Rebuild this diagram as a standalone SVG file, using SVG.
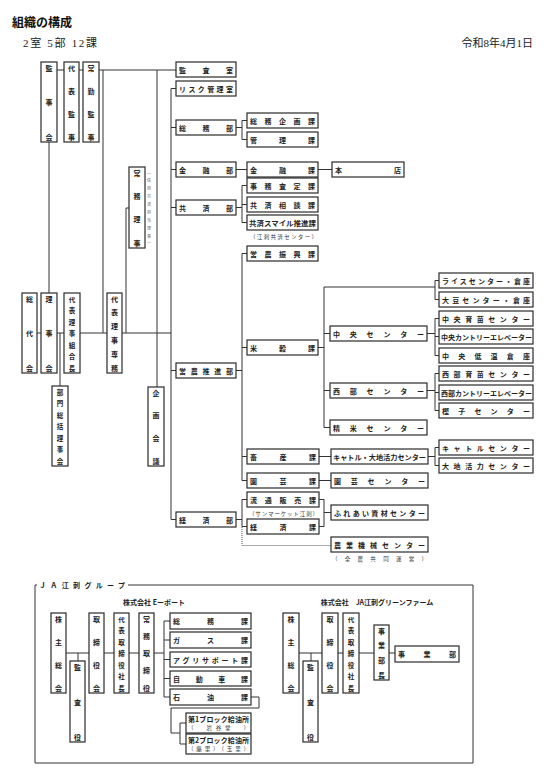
<svg xmlns="http://www.w3.org/2000/svg" width="550" height="783" viewBox="0 0 550 783">
<style>
.bx{fill:#fff;stroke:#2a2a2a;stroke-width:1.2}
.ln{fill:none;stroke:#333;stroke-width:1}
.dt{fill:none;stroke:#555;stroke-width:1;stroke-dasharray:1 1}
.t{font-family:"Noto Sans CJK JP","Noto Sans",sans-serif;font-size:7px;font-weight:bold;fill:#222}
.v{font-family:"Noto Sans CJK JP","Noto Sans",sans-serif;font-size:7px;font-weight:bold;fill:#222;text-anchor:middle}
.n{font-family:"Noto Sans CJK JP","Noto Sans",sans-serif;font-size:5.5px;fill:#333}
.h1{font-family:"Noto Sans CJK JP",sans-serif;font-size:12px;font-weight:bold;fill:#111}
.h2{font-family:"Liberation Serif","Noto Sans CJK JP",serif;font-size:11px;fill:#222}
</style>
<rect width="550" height="783" fill="#fff"/>
<text class="h1" x="12" y="27">組織の構成</text>
<text class="h2" x="23" y="47" textLength="74" lengthAdjust="spacing">2室 5部 12課</text>
<text class="h2" x="533" y="47" text-anchor="end">令和8年4月1日</text>

<g id="connectors">
<path class="ln" d="M57 70H64M79 70H83M99 70H176M103 70V333M157 70V387M49 142V293"/>
<path class="ln" d="M37 333H41M57 333H64M80 333H107M122 333H171M60 333V386M126 333V208H129"/>
<path class="ln" d="M171 88.5V519.5M171 88.5H176M171 127.5H176M171 169.5H176M171 207.5H176M171 370.5H176M171 519.5H176"/>
<path class="ln" d="M236 127.5H242M242 120.5V139.5M242 120.5H247M242 139.5H247"/>
<path class="ln" d="M236 169.5H247M318 169.5H332"/>
<path class="ln" d="M236 207.5H242M242 185.5V222.5M242 185.5H247M242 204.5H247M242 222.5H247"/>
<path class="ln" d="M236 370.5H242M242 253.5V480.5M242 253.5H247M242 347.5H247M242 456.5H247M242 480.5H247"/>
<path class="ln" d="M318 347.5H324M324 287V427.5M324 287H435M435 280.5V299.5M435 280.5H439M435 299.5H439"/>
<path class="ln" d="M324 333.5H330M427 333.5H435M435 318.5V355.5M435 318.5H439M435 336.5H439M435 355.5H439"/>
<path class="ln" d="M324 390.5H330M427 390.5H435M435 373.5V410.5M435 373.5H439M435 392.5H439M435 410.5H439"/>
<path class="ln" d="M324 427.5H330"/>
<path class="ln" d="M319 456.5H331M428 456.5H435M435 447.5V465.5M435 447.5H439M435 465.5H439M319 480.5H331"/>
<path class="ln" d="M236 519.5H242M242 499.5V526.5M242 499.5H247M242 526.5H247M319 499.5H324M319 526.5H324M324 499.5V526.5M324 512.5H331"/>
<path class="dt" d="M242 527V545.5H331"/>
<path class="ln" d="M35 590V763H473V585H128M35 585H37M35 585V590"/>
<path class="ln" d="M66 653H89M104 653H114M129 653H139M154 653H164M78 653V661"/>
<path class="ln" d="M164 621V697M164 621H170M164 640H170M164 659.5H170M164 678.5H170M164 697H170"/>
<path class="ln" d="M251 697H259V708H171V733H180M180 723V744M180 723H186M180 744H186"/>
<path class="ln" d="M299 653H322M338 653H343M359 653H374M389 653H395M311 653V661"/>
</g>

<g id="kansa-jimukai"><rect class="bx" x="41" y="62" width="16" height="80"/><text class="v"><tspan x="49" y="70.5">監</tspan><tspan x="49" y="105">事</tspan><tspan x="49" y="139.5">会</tspan></text></g>
<g id="daihyo-kanji"><rect class="bx" x="64" y="62" width="15" height="80"/><text class="v"><tspan x="71.5" y="70.5">代</tspan><tspan x="71.5" y="93.5">表</tspan><tspan x="71.5" y="116.5">監</tspan><tspan x="71.5" y="139.5">事</tspan></text></g>
<g id="jokin-kanji"><rect class="bx" x="83" y="62" width="16" height="80"/><text class="v"><tspan x="91" y="70.5">常</tspan><tspan x="91" y="93.5">勤</tspan><tspan x="91" y="116.5">監</tspan><tspan x="91" y="139.5">事</tspan></text></g>
<g id="jomu-riji"><rect class="bx" x="129" y="167" width="16" height="81"/><text class="v"><tspan x="137" y="175.5">常</tspan><tspan x="137" y="198.8">務</tspan><tspan x="137" y="222.2">理</tspan><tspan x="137" y="245.5">事</tspan></text>
<text class="n" style="font-size:4px;fill:#666" writing-mode="tb" x="149" y="170" textLength="76" lengthAdjust="spacing">（信用共済担当理事）</text></g>
<g id="sodaikai"><rect class="bx" x="22" y="293" width="15" height="80"/><text class="v"><tspan x="29.5" y="301.5">総</tspan><tspan x="29.5" y="336">代</tspan><tspan x="29.5" y="370.5">会</tspan></text></g>
<g id="rijikai"><rect class="bx" x="41" y="293" width="16" height="80"/><text class="v"><tspan x="49" y="301.5">理</tspan><tspan x="49" y="336">事</tspan><tspan x="49" y="370.5">会</tspan></text></g>
<g id="kumiaicho"><rect class="bx" x="64" y="293" width="16" height="80"/><text class="v" style="font-size:6.5px"><tspan x="72" y="301.5">代</tspan><tspan x="72" y="313">表</tspan><tspan x="72" y="324.5">理</tspan><tspan x="72" y="336">事</tspan><tspan x="72" y="347.5">組</tspan><tspan x="72" y="359">合</tspan><tspan x="72" y="370.5">長</tspan></text></g>
<g id="senmu"><rect class="bx" x="107" y="293" width="15" height="80"/><text class="v"><tspan x="114.5" y="301.5">代</tspan><tspan x="114.5" y="315.3">表</tspan><tspan x="114.5" y="329.1">理</tspan><tspan x="114.5" y="342.9">事</tspan><tspan x="114.5" y="356.7">専</tspan><tspan x="114.5" y="370.5">務</tspan></text></g>
<g id="bumon"><rect class="bx" x="52" y="386" width="16" height="80"/><text class="v" style="font-size:6.5px"><tspan x="60" y="394.5">部</tspan><tspan x="60" y="406">門</tspan><tspan x="60" y="417.5">総</tspan><tspan x="60" y="429">括</tspan><tspan x="60" y="440.5">理</tspan><tspan x="60" y="452">事</tspan><tspan x="60" y="463.5">会</tspan></text></g>
<g id="kikaku"><rect class="bx" x="148" y="387" width="16" height="79"/><text class="v"><tspan x="156" y="395.5">企</tspan><tspan x="156" y="418.2">画</tspan><tspan x="156" y="440.8">会</tspan><tspan x="156" y="463.5">議</tspan></text></g>

<g id="kansashitsu"><rect class="bx" x="176" y="62" width="60" height="15"/><text class="t" x="179" y="72.5" textLength="54" lengthAdjust="spacing">監査室</text></g>
<g id="risk"><rect class="bx" x="176" y="81" width="60" height="15"/><text class="t" x="179" y="91.5" textLength="54" lengthAdjust="spacing">リスク管理室</text></g>
<g id="somubu"><rect class="bx" x="176" y="120" width="60" height="15"/><text class="t" x="179" y="130.5" textLength="54" lengthAdjust="spacing">総務部</text></g>
<g id="somukikaku"><rect class="bx" x="247" y="113" width="71" height="15"/><text class="t" x="250" y="123.5" textLength="65" lengthAdjust="spacing">総務企画課</text></g>
<g id="kanri"><rect class="bx" x="247" y="132" width="71" height="15"/><text class="t" x="250" y="142.5" textLength="65" lengthAdjust="spacing">管理課</text></g>
<g id="kinyubu"><rect class="bx" x="176" y="162" width="60" height="15"/><text class="t" x="179" y="172.5" textLength="54" lengthAdjust="spacing">金融部</text></g>
<g id="kinyuka"><rect class="bx" x="247" y="162" width="71" height="15"/><text class="t" x="250" y="172.5" textLength="65" lengthAdjust="spacing">金融課</text></g>
<g id="honten"><rect class="bx" x="332" y="162" width="72" height="15"/><text class="t" x="335" y="172.5" textLength="66" lengthAdjust="spacing">本店</text></g>
<g id="kyosaibu"><rect class="bx" x="176" y="200" width="60" height="15"/><text class="t" x="179" y="210.5" textLength="54" lengthAdjust="spacing">共済部</text></g>
<g id="jimusatei"><rect class="bx" x="247" y="178" width="71" height="15"/><text class="t" x="250" y="188.5" textLength="65" lengthAdjust="spacing">事務査定課</text></g>
<g id="kyosaisodan"><rect class="bx" x="247" y="197" width="71" height="15"/><text class="t" x="250" y="207.5" textLength="65" lengthAdjust="spacing">共済相談課</text></g>
<g id="smile"><rect class="bx" x="247" y="215" width="71" height="15"/><text class="t" x="249" y="225.5" textLength="67" lengthAdjust="spacingAndGlyphs">共済スマイル推進課</text><text class="n" x="250" y="238.5" textLength="67" lengthAdjust="spacing">（江刺共済センター）</text></g>
<g id="einoshinko"><rect class="bx" x="247" y="246" width="71" height="15"/><text class="t" x="250" y="256.5" textLength="65" lengthAdjust="spacing">営農振興課</text></g>
<g id="beikoku"><rect class="bx" x="247" y="340" width="71" height="15"/><text class="t" x="250" y="350.5" textLength="65" lengthAdjust="spacing">米穀課</text></g>
<g id="einosuishin"><rect class="bx" x="176" y="363" width="60" height="15"/><text class="t" x="179" y="373.5" textLength="54" lengthAdjust="spacing">営農推進部</text></g>
<g id="chikusan"><rect class="bx" x="247" y="449" width="72" height="15"/><text class="t" x="250" y="459.5" textLength="66" lengthAdjust="spacing">畜産課</text></g>
<g id="engei"><rect class="bx" x="247" y="473" width="72" height="15"/><text class="t" x="250" y="483.5" textLength="66" lengthAdjust="spacing">園芸課</text></g>
<g id="ryutsu"><rect class="bx" x="247" y="492" width="72" height="15"/><text class="t" x="250" y="502.5" textLength="66" lengthAdjust="spacing">流通販売課</text><text class="n" x="249" y="515.5" textLength="69" lengthAdjust="spacing">（サンマーケット江刺）</text></g>
<g id="keizaika"><rect class="bx" x="247" y="519" width="72" height="15"/><text class="t" x="250" y="529.5" textLength="66" lengthAdjust="spacing">経済課</text></g>
<g id="keizaibu"><rect class="bx" x="176" y="512" width="60" height="15"/><text class="t" x="179" y="522.5" textLength="54" lengthAdjust="spacing">経済部</text></g>
<g id="chuo"><rect class="bx" x="330" y="326" width="97" height="15"/><text class="t" x="333" y="336.5" textLength="91" lengthAdjust="spacing">中央センター</text></g>
<g id="seibu"><rect class="bx" x="330" y="383" width="97" height="15"/><text class="t" x="333" y="393.5" textLength="91" lengthAdjust="spacing">西部センター</text></g>
<g id="seimai"><rect class="bx" x="330" y="420" width="97" height="15"/><text class="t" x="333" y="430.5" textLength="91" lengthAdjust="spacing">精米センター</text></g>
<g id="cattle-daichi"><rect class="bx" x="331" y="449" width="97" height="15"/><text class="t" x="333" y="459.5" textLength="93" lengthAdjust="spacingAndGlyphs">キャトル・大地活力センター</text></g>
<g id="engeicenter"><rect class="bx" x="331" y="473" width="97" height="15"/><text class="t" x="334" y="483.5" textLength="91" lengthAdjust="spacing">園芸センター</text></g>
<g id="fureai"><rect class="bx" x="331" y="505" width="97" height="15"/><text class="t" x="334" y="515.5" textLength="91" lengthAdjust="spacing">ふれあい資材センター</text></g>
<g id="nogyokikai"><rect class="bx" x="331" y="537" width="97" height="15"/><text class="t" x="334" y="547.5" textLength="91" lengthAdjust="spacing">農業機械センター</text><text class="n" x="332" y="560.5" textLength="95" lengthAdjust="spacing">（全農共同運営）</text></g>
<g id="rice"><rect class="bx" x="439" y="273" width="94" height="15"/><text class="t" x="442" y="283.5" textLength="88" lengthAdjust="spacing">ライスセンター・倉庫</text></g>
<g id="daizu"><rect class="bx" x="439" y="292" width="94" height="15"/><text class="t" x="442" y="302.5" textLength="88" lengthAdjust="spacing">大豆センター・倉庫</text></g>
<g id="chuoikubyo"><rect class="bx" x="439" y="311" width="94" height="15"/><text class="t" x="442" y="321.5" textLength="88" lengthAdjust="spacing">中央育苗センター</text></g>
<g id="chuocountry"><rect class="bx" x="439" y="329" width="94" height="15"/><text class="t" x="441" y="339.5" textLength="91" lengthAdjust="spacingAndGlyphs">中央カントリーエレベーター</text></g>
<g id="chuoteion"><rect class="bx" x="439" y="348" width="94" height="15"/><text class="t" x="442" y="358.5" textLength="88" lengthAdjust="spacing">中央低温倉庫</text></g>
<g id="seibuikubyo"><rect class="bx" x="439" y="366" width="94" height="15"/><text class="t" x="442" y="376.5" textLength="88" lengthAdjust="spacing">西部育苗センター</text></g>
<g id="seibucountry"><rect class="bx" x="439" y="385" width="94" height="15"/><text class="t" x="441" y="395.5" textLength="91" lengthAdjust="spacingAndGlyphs">西部カントリーエレベーター</text></g>
<g id="kashiko"><rect class="bx" x="439" y="403" width="94" height="15"/><text class="t" x="442" y="413.5" textLength="88" lengthAdjust="spacing">樫子センター</text></g>
<g id="cattle"><rect class="bx" x="439" y="440" width="94" height="15"/><text class="t" x="442" y="450.5" textLength="88" lengthAdjust="spacing">キャトルセンター</text></g>
<g id="daichi"><rect class="bx" x="439" y="458" width="94" height="15"/><text class="t" x="442" y="468.5" textLength="88" lengthAdjust="spacing">大地活力センター</text></g>

<g id="ja-group">
<text class="t" x="39" y="588" textLength="86" lengthAdjust="spacing">ＪＡ江刺グループ</text>
<text class="t" x="154" y="605" text-anchor="middle">株式会社 Eーポート</text>
<text class="t" x="377" y="605" text-anchor="middle">株式会社　JA江刺グリーンファーム</text>
</g>
<g id="e-kabunushi"><rect class="bx" x="51" y="613" width="15" height="80"/><text class="v"><tspan x="58.5" y="621.5">株</tspan><tspan x="58.5" y="644.5">主</tspan><tspan x="58.5" y="667.5">総</tspan><tspan x="58.5" y="690.5">会</tspan></text></g>
<g id="e-kansayaku"><rect class="bx" x="70" y="661" width="15" height="81"/><text class="v"><tspan x="77.5" y="669.5">監</tspan><tspan x="77.5" y="704.5">査</tspan><tspan x="77.5" y="739.5">役</tspan></text></g>
<g id="e-torishimariyakukai"><rect class="bx" x="89" y="613" width="15" height="80"/><text class="v"><tspan x="96.5" y="621.5">取</tspan><tspan x="96.5" y="644.5">締</tspan><tspan x="96.5" y="667.5">役</tspan><tspan x="96.5" y="690.5">会</tspan></text></g>
<g id="e-shacho"><rect class="bx" x="114" y="613" width="15" height="80"/><text class="v" style="font-size:6.5px"><tspan x="121.5" y="621.5">代</tspan><tspan x="121.5" y="633">表</tspan><tspan x="121.5" y="644.5">取</tspan><tspan x="121.5" y="656">締</tspan><tspan x="121.5" y="667.5">役</tspan><tspan x="121.5" y="679">社</tspan><tspan x="121.5" y="690.5">長</tspan></text></g>
<g id="e-jomu"><rect class="bx" x="139" y="613" width="15" height="80"/><text class="v"><tspan x="146.5" y="621.5">常</tspan><tspan x="146.5" y="638.8">務</tspan><tspan x="146.5" y="656">取</tspan><tspan x="146.5" y="673.3">締</tspan><tspan x="146.5" y="690.5">役</tspan></text></g>
<g id="e-somu"><rect class="bx" x="170" y="613" width="81" height="16"/><text class="t" x="173" y="623.5" textLength="75" lengthAdjust="spacing">総務課</text></g>
<g id="e-gas"><rect class="bx" x="170" y="632" width="81" height="16"/><text class="t" x="173" y="642.5" textLength="75" lengthAdjust="spacing">ガス課</text></g>
<g id="e-agri"><rect class="bx" x="170" y="652" width="81" height="15"/><text class="t" x="173" y="662.5" textLength="75" lengthAdjust="spacing">アグリサポート課</text></g>
<g id="e-jidosha"><rect class="bx" x="170" y="671" width="81" height="15"/><text class="t" x="173" y="681.5" textLength="75" lengthAdjust="spacing">自動車課</text></g>
<g id="e-sekiyu"><rect class="bx" x="170" y="689" width="81" height="16"/><text class="t" x="173" y="699.5" textLength="75" lengthAdjust="spacing">石油課</text></g>
<g id="e-block1"><rect class="bx" x="186" y="713" width="65" height="20"/><text class="t" x="188" y="721.5" textLength="61" lengthAdjust="spacing">第1ブロック給油所</text><text class="n" x="188" y="730" textLength="61" lengthAdjust="spacing">（　岩谷堂　）</text></g>
<g id="e-block2"><rect class="bx" x="186" y="734" width="65" height="20"/><text class="t" x="188" y="742.5" textLength="61" lengthAdjust="spacing">第2ブロック給油所</text><text class="n" x="188" y="751" textLength="61" lengthAdjust="spacing">（藤里）（玉里）</text></g>

<g id="g-kabunushi"><rect class="bx" x="283" y="613" width="16" height="80"/><text class="v"><tspan x="291" y="621.5">株</tspan><tspan x="291" y="644.5">主</tspan><tspan x="291" y="667.5">総</tspan><tspan x="291" y="690.5">会</tspan></text></g>
<g id="g-kansayaku"><rect class="bx" x="303" y="661" width="15" height="81"/><text class="v"><tspan x="310.5" y="669.5">監</tspan><tspan x="310.5" y="704.5">査</tspan><tspan x="310.5" y="739.5">役</tspan></text></g>
<g id="g-torishimariyakukai"><rect class="bx" x="322" y="613" width="16" height="80"/><text class="v"><tspan x="330" y="621.5">取</tspan><tspan x="330" y="644.5">締</tspan><tspan x="330" y="667.5">役</tspan><tspan x="330" y="690.5">会</tspan></text></g>
<g id="g-shacho"><rect class="bx" x="343" y="613" width="16" height="80"/><text class="v" style="font-size:6.5px"><tspan x="351" y="621.5">代</tspan><tspan x="351" y="633">表</tspan><tspan x="351" y="644.5">取</tspan><tspan x="351" y="656">締</tspan><tspan x="351" y="667.5">役</tspan><tspan x="351" y="679">社</tspan><tspan x="351" y="690.5">長</tspan></text></g>
<g id="g-jigyobucho"><rect class="bx" x="374" y="625" width="15" height="55"/><text class="v"><tspan x="381.5" y="633.5">事</tspan><tspan x="381.5" y="648.2">業</tspan><tspan x="381.5" y="662.8">部</tspan><tspan x="381.5" y="677.5">長</tspan></text></g>
<g id="g-jigyobu"><rect class="bx" x="395" y="646" width="64" height="16"/><text class="t" x="398" y="656.5" textLength="58" lengthAdjust="spacing">事業部</text></g>
</svg>
